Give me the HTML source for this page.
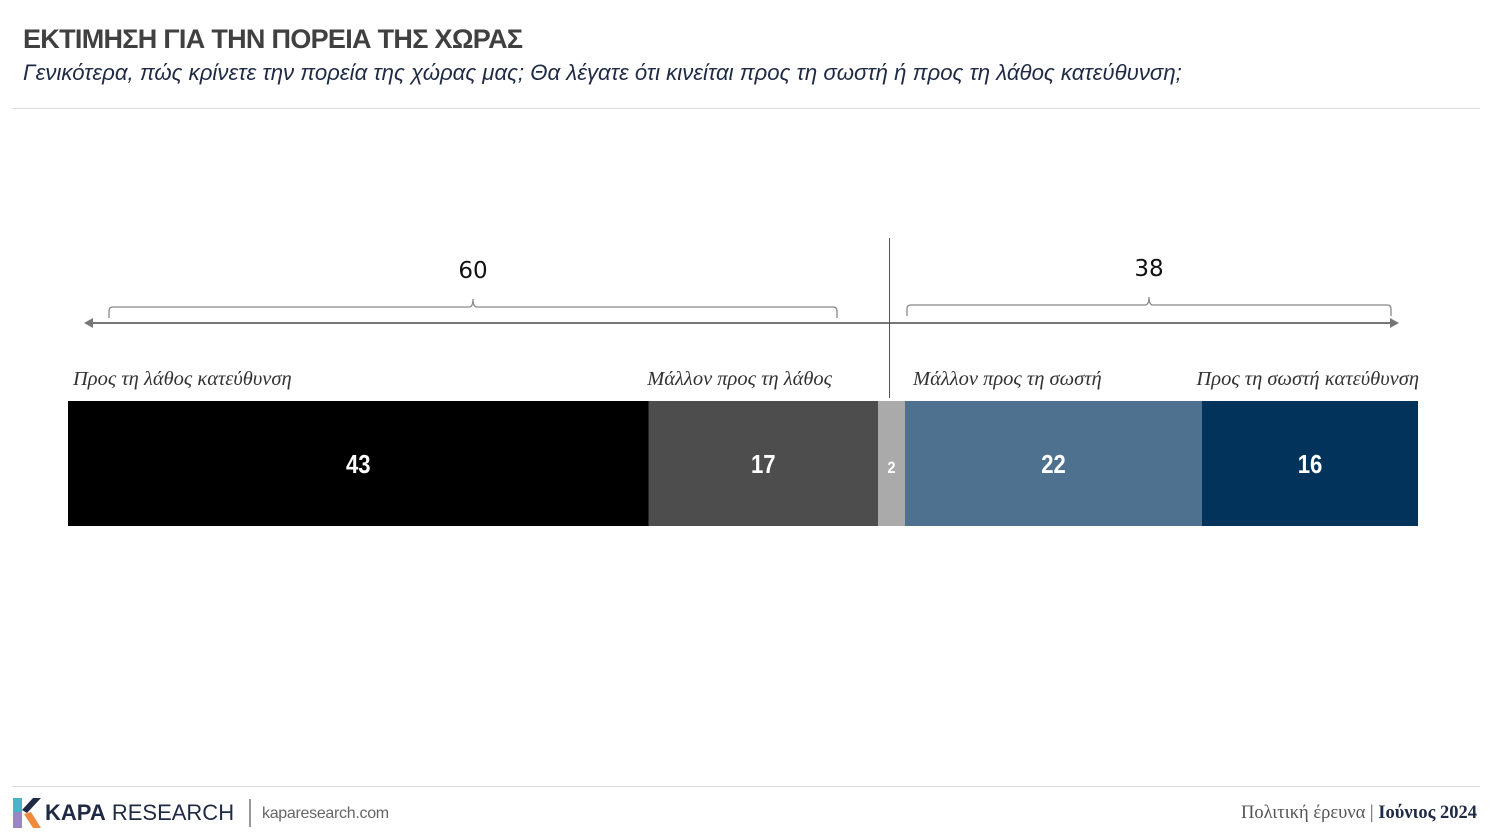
<!DOCTYPE html>
<html><head><meta charset="utf-8"><style>
body{margin:0;width:1491px;height:837px;background:#fff;overflow:hidden;font-family:"Liberation Sans",sans-serif;position:relative}
.t{position:absolute;white-space:nowrap}
</style></head><body>
<div class="t" style="left:23px;top:24px;font-size:27px;font-weight:bold;color:#404040;letter-spacing:-0.7px">ΕΚΤΙΜΗΣΗ ΓΙΑ ΤΗΝ ΠΟΡΕΙΑ ΤΗΣ ΧΩΡΑΣ</div>
<div class="t" style="left:23px;top:60px;font-size:22.2px;font-style:italic;color:#1f2a44">Γενικότερα, πώς κρίνετε την πορεία της χώρας μας; Θα λέγατε ότι κινείται προς τη σωστή ή προς τη λάθος κατεύθυνση;</div>
<div style="position:absolute;left:12px;top:108px;width:1468px;height:1px;background:#ddd"></div>
<svg id="c" width="1491" height="837" style="position:absolute;left:0;top:0" font-family="Liberation Serif, serif"></svg>
<div style="position:absolute;left:12px;top:786px;width:1468px;height:1px;background:#ddd"></div>
<div style="position:absolute;left:13px;top:798px;width:28px;height:30px">
<svg width="28" height="30"><polygon points="0,0 9,0 9,14 0,14" fill="#4bb3c6"/><polygon points="0,14 9,14 9,30 0,30" fill="#9a86c0"/><polygon points="9,12 20,0 28,0 14,15" fill="#1f2a44"/><polygon points="11,16 18,14 28,30 20,30" fill="#f08a3c"/></svg></div>
<div class="t" style="left:45px;top:800px;font-size:22px;color:#1f2a44"><b>KAPA</b> RESEARCH</div>
<div style="position:absolute;left:249px;top:799px;width:2px;height:28px;background:#999"></div>
<div class="t" style="left:262px;top:805px;font-size:16px;color:#666;letter-spacing:-0.3px">kaparesearch.com</div>
<div class="t" style="right:14px;top:803px;font-size:18.5px;color:#555;font-family:'Liberation Serif',serif">Πολιτική έρευνα | <b style="color:#1f2a44">Ιούνιος 2024</b></div>
<script>
const categories=["Προς τη λάθος κατεύθυνση","Μάλλον προς τη λάθος","ΔΓ/ΔΑ","Μάλλον προς τη σωστή","Προς τη σωστή κατεύθυνση"];
const values=[43,17,2,22,16];
const colors=["#000000","#4d4d4d","#aaaaaa","#4d718f","#02335a"];
const groupTotals=[60,38];
const svg=document.getElementById('c');const NS='http://www.w3.org/2000/svg';
function mk(t,a,p){const e=document.createElementNS(NS,t);for(const k in a)e.setAttribute(k,a[k]);(p||svg).appendChild(e);return e;}
const x0=68,x1=1418,total=values.reduce((a,b)=>a+b,0);
const xs=v=>x0+(x1-x0)*v/total;
let cum=0;
values.forEach((v,i)=>{const a=xs(cum),b=xs(cum+v);
 const r=mk('rect',{x:a,y:401,width:b-a,height:125,fill:colors[i]});
 
 
 const c=(a+b)/2;
 const t=mk('text',{x:c,y:473,'text-anchor':'middle','font-family':'Liberation Sans, sans-serif','font-weight':'bold','font-size':i==2?17:26,fill:'#fff',transform:`translate(${c},0) scale(0.85,1) translate(${-c},0)`});
 t.textContent=values[i];
 
 
 cum+=v;});
const lab=[[73,'start',0],[832,'end',1],[913,'start',3],[1419,'end',4]];
lab.forEach(([x,an,i])=>{const t=mk('text',{x:x,y:385,'text-anchor':an,'font-style':'italic','font-size':20.5,fill:'#333'});t.textContent=categories[i];
 
 });
const g=mk('g',{stroke:'#777','stroke-width':2,fill:'none'});


mk('line',{x1:90,y1:323,x2:1394,y2:323},g);
mk('polygon',{points:'84,323 93,318 93,328',fill:'#777',stroke:'none'},g);
mk('polygon',{points:'1399,323 1390,318 1390,328',fill:'#777',stroke:'none'},g);
const mid=xs(values[0]+values[1]+values[2]/2)-2;
const dv=mk('line',{x1:mid,y1:238,x2:mid,y2:398,stroke:'#555','stroke-width':1});


const br=[[109,837,307,318],[907,1391,305,316]];
br.forEach(([a,b,yt,yb],k)=>{const c=(a+b)/2;
 const p=mk('path',{d:`M${a},${yb} L${a},${yt+4} Q${a},${yt} ${a+4},${yt} L${c-4},${yt} Q${c},${yt} ${c},${yt-8} Q${c},${yt} ${c+4},${yt} L${b-4},${yt} Q${b},${yt} ${b},${yt+4} L${b},${yb}`,stroke:'#888','stroke-width':1.3,fill:'none'});
 
 
 const t=mk('text',{x:c,y:yt-29,'text-anchor':'middle','font-family':'DejaVu Sans, sans-serif','font-size':23,fill:'#111'});
 t.textContent=groupTotals[k];
 
 });
</script>
</body></html>
